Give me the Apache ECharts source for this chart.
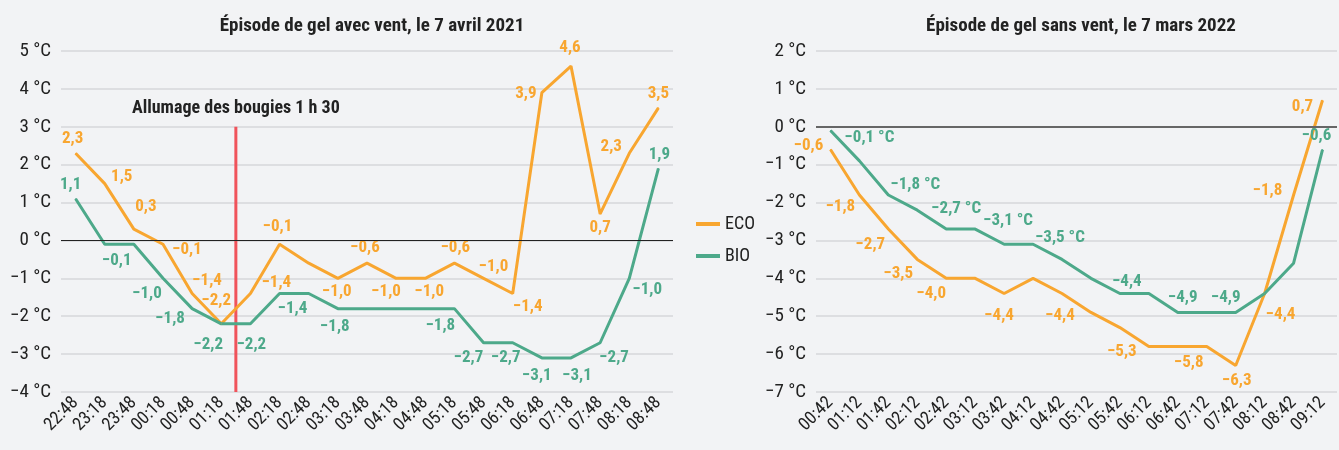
<!DOCTYPE html>
<html>
<head>
<meta charset="utf-8">
<script src="https://cdn.jsdelivr.net/npm/echarts@6/dist/echarts.min.js"></script>
<style>
html, body { margin: 0; padding: 0; background: #f2f3f5; }
#chart { width: 1339px; height: 450px; }
</style>
</head>
<body>
<div id="chart"></div>
<script>
// épisode avec vent, 7 avril 2021
const heuresAvril = ['22:48', '23:18', '23:48', '00:18', '00:48', '01:18', '01:48', '02:18', '02:48', '03:18', '03:48',
    '04:18', '04:48', '05:18', '05:48', '06:18', '06:48', '07:18', '07:48', '08:18', '08:48']
const ecoAvril = [2.3, 1.5, 0.3, -0.1, -1.4, -2.2, -1.4, -0.1, -0.6, -1.0, -0.6, -1.0, -1.0, -0.6, -1.0, -1.4, 3.9, 4.6, 0.7, 2.3, 3.5]
const bioAvril = [1.1, -0.1, -0.1, -1.0, -1.8, -2.2, -2.2, -1.4, -1.4, -1.8, -1.8, -1.8, -1.8, -1.8, -2.7, -2.7, -3.1, -3.1, -2.7, -1.0, 1.9]

// épisode sans vent, 7 mars 2022
const heuresMars = ['00:42', '01:12', '01:42', '02:12', '02:42', '03:12', '03:42', '04:12', '04:42', '05:12', '05:42',
    '06:12', '06:42', '07:12', '07:42', '08:12', '08:42', '09:12']
const ecoMars = [-0.6, -1.8, -2.7, -3.5, -4.0, -4.0, -4.4, -4.0, -4.4, -4.9, -5.3, -5.8, -5.8, -5.8, -6.3, -4.4, -1.8, 0.7]
const bioMars = [-0.1, -0.9, -1.8, -2.2, -2.7, -2.7, -3.1, -3.1, -3.5, -4.0, -4.4, -4.4, -4.9, -4.9, -4.9, -4.4, -3.6, -0.6]
const bioMarsAvecUnite = [0, 2, 4, 6, 8]   // étiquettes suivies de « °C »

// allumage des bougies : entre 01:18 et 01:48
const bougies = { x: 6, yHaut: 3, yBas: -4, texte: 'Allumage des bougies 1 h 30' }

// décalage des étiquettes (px), null = pas d'étiquette
const lblEcoAvril = [[-3, -15], [17, -7], [12, -22], [24, 6], [15, -13], [-5, -23], [26, -11], [-2, -17], null, [-1, 13], [-2, -15],
    [-10, 13], [4, 13], [1, -15], [10, -12], [15, 13], [-16, 1], [-1, -18], [0, 14], [-18, -7], [0, -14]]
const lblBioAvril = [[-5, -14], [12, 17], null, [-16, 15], [-22, 10], [-13, 21], [1, 21], [13, 15], null, [-3, 18], null,
    null, null, [-14, 17], [-15, 15], [-7, 15], [-5, 18], [6, 18], [14, 15], [18, 11], [1, -14]]
const lblEcoMars = [[-22, -4], [-19, 12], [-18, 16], [-19, 14], [-15, 15], null, [-5, 22], null, [-2, 22], null, [2, 24],
    null, null, [-18, 16], [1, 15], [16, 21], [-26, -4], [-20, 6]]
const lblBioMars = [[39, 7], null, [27, -10], null, [10, -20], null, [4, -23], null, [-2, -22], null, [7, -12],
    null, [5, -15], null, [-10, -15], null, null, [-6, -14]]

const FONT = "'Roboto Condensed', 'Liberation Sans Narrow', 'DejaVu Sans Condensed', 'Arial Narrow', Roboto, sans-serif"
const ORANGE = '#f8a630'
const VERT = '#4da98a'
const TEXTE = '#222'

function fr(v) {
    let s = Math.abs(v).toFixed(1).replace('.', ',')
    return (v < 0 ? '\u2212' : '') + s
}
function degres(v) {
    return (v < 0 ? '\u2212' + Math.abs(v) : v) + ' °C'
}

function points(values, offsets, color, unites) {
    return values.map((v, i) => {
        let off = offsets[i]
        if (!off) return { value: v, label: { show: false } }
        return {
            value: v,
            label: {
                show: true,
                position: 'inside',
                offset: off,
                color: color,
                fontFamily: FONT,
                fontWeight: 'bold',
                fontSize: 17,
                formatter: () => fr(v) + (unites && unites.includes(i) ? ' °C' : '')
            }
        }
    })
}

function courbe(name, values, offsets, color, xi, yi, unites) {
    return {
        name: name,
        type: 'line',
        xAxisIndex: xi,
        yAxisIndex: yi,
        symbol: 'circle',
        symbolSize: 1,
        showSymbol: true,
        itemStyle: { color: color },
        lineStyle: { color: color, width: 3 },
        data: points(values, offsets, color, unites),
        z: 3
    }
}

function zero(color, width) {
    return {
        silent: true,
        symbol: 'none',
        label: { show: false },
        lineStyle: { color: color, width: width, type: 'solid' },
        data: [{ yAxis: 0 }]
    }
}

const axeX = (cats, gi) => ({
    type: 'category',
    gridIndex: gi,
    data: cats,
    boundaryGap: true,
    axisLine: { show: false },
    axisTick: { show: false },
    axisLabel: { rotate: 45, color: TEXTE, fontFamily: FONT, fontSize: 18, margin: 8, interval: 0 }
})
const axeY = (min, max, gi) => ({
    type: 'value',
    gridIndex: gi,
    min: min,
    max: max,
    interval: 1,
    axisLine: { show: false },
    axisTick: { show: false },
    axisLabel: { color: TEXTE, fontFamily: FONT, fontSize: 19, margin: 10, formatter: degres },
    splitLine: { lineStyle: { color: '#d6d7da', width: 1.5 } }
})

let myChart = echarts.init(document.getElementById('chart'))

let seriesAvril = [
    courbe('ECO', ecoAvril, lblEcoAvril, ORANGE, 0, 0),
    courbe('BIO', bioAvril, lblBioAvril, VERT, 0, 0)
]
seriesAvril[1].markLine = zero('#222', 1)

let seriesMars = [
    courbe('ECO', ecoMars, lblEcoMars, ORANGE, 1, 1),
    courbe('BIO', bioMars, lblBioMars, VERT, 1, 1, bioMarsAvecUnite)
]
seriesMars[1].markLine = zero('#666', 2)

let option = {
    backgroundColor: '#f2f3f5',
    animation: false,
    textStyle: { fontFamily: FONT },
    title: [
        {
            text: 'Épisode de gel avec vent, le 7 avril 2021',
            left: 367, top: 12, textAlign: 'center',
            textStyle: { fontFamily: FONT, fontWeight: 'bold', fontSize: 19, color: TEXTE }
        },
        {
            text: 'Épisode de gel sans vent, le 7 mars 2022',
            left: 1076, top: 12, textAlign: 'center',
            textStyle: { fontFamily: FONT, fontWeight: 'bold', fontSize: 19, color: TEXTE }
        }
    ],
    legend: {
        data: ['ECO', 'BIO'],
        orient: 'vertical',
        left: 691,
        top: 210,
        itemWidth: 24,
        itemHeight: 4,
        itemGap: 14,
        icon: 'rect',
        textStyle: { color: TEXTE, fontFamily: FONT, fontSize: 18 }
    },
    grid: [
        { left: 61, right: 666, top: 51, bottom: 58 },
        { left: 816, right: 2, top: 51, bottom: 58 }
    ],
    xAxis: [
        axeX(heuresAvril, 0),
        axeX(heuresMars, 1),
        { type: 'value', gridIndex: 0, min: 0, max: heuresAvril.length, show: false }
    ],
    yAxis: [
        axeY(-4, 5, 0),
        axeY(-7, 2, 1)
    ],
    series: [
        ...seriesAvril,
        ...seriesMars,
        {
            name: 'bougies',
            type: 'line',
            xAxisIndex: 2,
            yAxisIndex: 0,
            symbol: 'none',
            lineStyle: { color: '#f0535b', width: 3 },
            data: [[bougies.x, bougies.yHaut], [bougies.x, bougies.yBas]],
            label: { show: false },
            markPoint: {
                symbol: 'circle',
                symbolSize: 0,
                label: {
                    show: true,
                    position: 'top',
                    distance: 9,
                    formatter: bougies.texte,
                    color: TEXTE,
                    fontFamily: FONT,
                    fontWeight: 'bold',
                    fontSize: 18
                },
                data: [{ coord: [bougies.x, bougies.yHaut] }]
            },
            z: 2
        }
    ]
}

myChart.setOption(option, true)
</script>
</body>
</html>
